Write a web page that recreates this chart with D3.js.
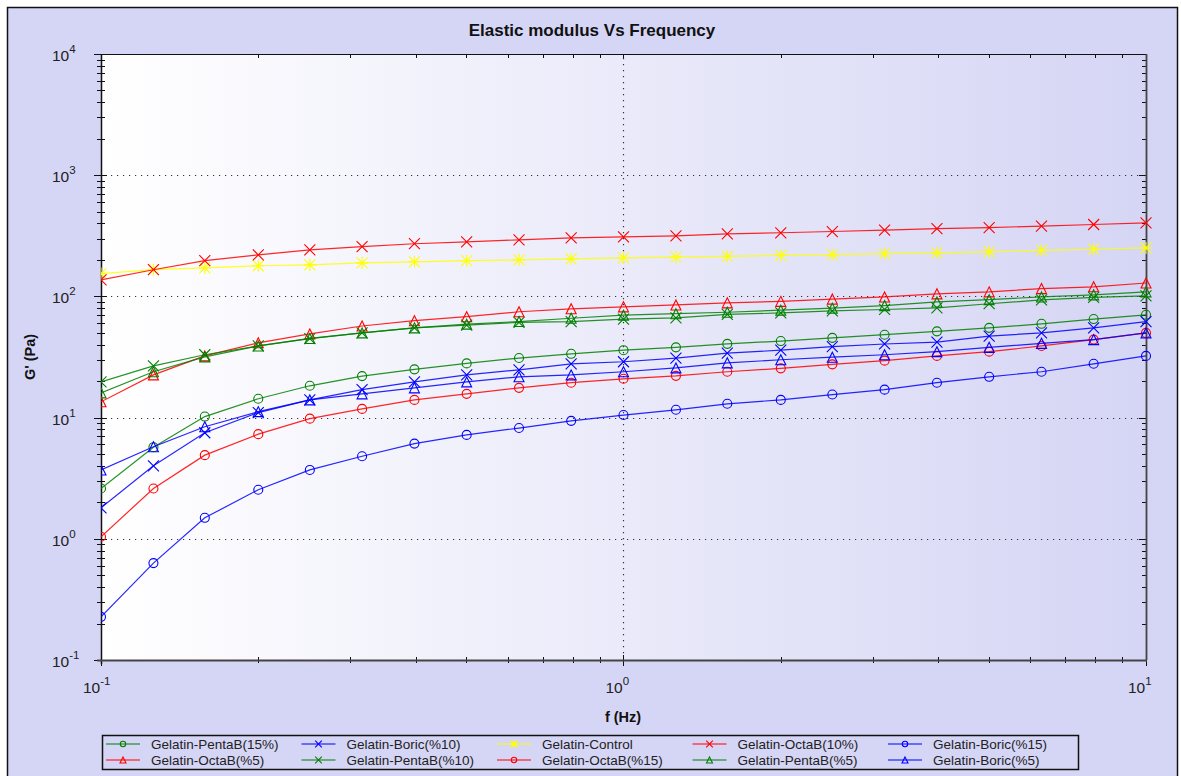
<!DOCTYPE html>
<html>
<head>
<meta charset="utf-8">
<script src="https://cdn.jsdelivr.net/npm/d3@7"></script>
<style>
  html, body { margin: 0; padding: 0; background: #fff; }
  svg { display: block; font-family: "Liberation Sans", Arial, sans-serif; }
</style>
</head>
<body>
<div id="chart"></div>
<script>
// frequencies (Hz)
const freq = [0.1, 0.126, 0.158, 0.2, 0.251, 0.316, 0.398, 0.501, 0.631, 0.794, 1, 1.26, 1.58, 2, 2.51, 3.16, 3.98, 5.01, 6.31, 7.94, 10];

// G' (Pa) per sample
const pentaB15 = [2.6, 5.7, 10.2, 14.3, 18.3, 22, 25, 28, 31, 33.6, 36, 38, 40.6, 42.8, 45.5, 48.3, 51.5, 55, 59.4, 65, 70.5];
const boric10  = [1.8, 4.0, 7.5, 11, 14, 17, 19.7, 22.5, 24.8, 27.8, 28.9, 31, 34, 36, 38.5, 40.5, 42, 47, 50, 55, 62];
const control  = [154, 166, 172, 179, 182, 189, 193, 197, 200, 204, 208, 211, 214, 218, 221, 225, 229, 233, 240, 245, 251];
const octaB10  = [137, 166, 197, 220, 242, 257, 272, 282, 293, 304, 310, 316, 328, 335, 343, 352, 362, 370, 380, 392, 405];
const boric15  = [0.227, 0.63, 1.49, 2.54, 3.7, 4.8, 6.1, 7.2, 8.2, 9.4, 10.5, 11.6, 13, 14, 15.5, 17, 19.4, 21.7, 23.9, 27.8, 32.3];
const octaB5   = [13.5, 22.5, 32.3, 41.4, 49, 57, 63, 68, 74.7, 79, 82, 85, 88.5, 91, 95, 99, 105, 109, 116, 120, 129];
const pentaB10 = [19.7, 26.7, 33, 39, 44.8, 50, 55, 58, 61, 62, 65, 66.6, 71, 73, 76, 78, 80.5, 87, 93.5, 98, 101];
const octaB15  = [1.04, 2.6, 4.9, 7.3, 9.8, 11.8, 14, 15.7, 17.6, 19.4, 20.9, 22.1, 23.9, 25.5, 27.5, 29.5, 32.3, 35, 39, 44, 50];
const pentaB5  = [16, 23.9, 31.7, 39, 45, 50, 55, 59, 62, 66, 70, 72, 74, 77, 80, 84, 90, 94, 99, 103, 109];
const boric5   = [3.7, 5.75, 8.4, 11.2, 14, 15.7, 17.6, 19.7, 21.7, 22.5, 23.9, 25.7, 28.3, 30, 31.5, 33, 35, 38, 41, 44, 50];

const names   = ["Gelatin-PentaB(15%)", "Gelatin-Boric(%10)", "Gelatin-Control", "Gelatin-OctaB(10%)", "Gelatin-Boric(%15)",
                 "Gelatin-OctaB(%5)", "Gelatin-PentaB(%10)", "Gelatin-OctaB(%15)", "Gelatin-PentaB(%5)", "Gelatin-Boric(%5)"];
const values  = [pentaB15, boric10, control, octaB10, boric15, octaB5, pentaB10, octaB15, pentaB5, boric5];
const colors  = ["#008000", "#0000ff", "#ffff00", "#ff0000", "#0000ff", "#ff0000", "#008000", "#ff0000", "#008000", "#0000ff"];
const symbols = ["circle", "x", "star", "x", "circle", "triangle", "x", "circle", "triangle", "triangle"];

const xDecades = [0.1, 1, 10];
const yDecades = [0.1, 1, 10, 100, 1000, 10000];

const W = 1181, H = 776;
const plot = { left: 101, right: 1146, top: 54, bottom: 660 };

const x = d3.scaleLog().domain([0.1, 10]).range([plot.left, plot.right]);
const y = d3.scaleLog().domain([0.1, 10000]).range([plot.bottom, plot.top]);

const svg = d3.select("#chart").append("svg").attr("width", W).attr("height", H);

const defs = svg.append("defs");
const grad = defs.append("linearGradient").attr("id", "plotbg").attr("x1", 0).attr("x2", 1).attr("y1", 0).attr("y2", 0);
grad.append("stop").attr("offset", 0).attr("stop-color", "#ffffff");
grad.append("stop").attr("offset", 1).attr("stop-color", "#d5d5f5");
defs.append("clipPath").attr("id", "clip").append("rect")
  .attr("x", plot.left).attr("y", plot.top - 6)
  .attr("width", plot.right - plot.left + 6).attr("height", plot.bottom - plot.top + 12);

// outer frame
svg.append("rect").attr("x", 7.5).attr("y", 7.5).attr("width", 1170).attr("height", 780)
  .attr("fill", "#d5d5f5").attr("stroke", "#111").attr("stroke-width", 1.5);

// plot background
svg.append("rect").attr("x", plot.left).attr("y", plot.top)
  .attr("width", plot.right - plot.left).attr("height", plot.bottom - plot.top)
  .attr("fill", "url(#plotbg)");

// title
svg.append("text").attr("x", 592).attr("y", 36).attr("text-anchor", "middle")
  .attr("font-size", 17).attr("font-weight", "bold").attr("fill", "#111")
  .text("Elastic modulus Vs Frequency");

// grid
const grid = svg.append("g").attr("stroke", "#333").attr("stroke-width", 1.2).attr("stroke-dasharray", "1.2,4.8");
grid.selectAll("line.gy").data(yDecades.slice(1, -1)).join("line")
  .attr("x1", plot.left + 4).attr("x2", plot.right - 4)
  .attr("y1", d => Math.round(y(d)) + 0.5).attr("y2", d => Math.round(y(d)) + 0.5);
grid.selectAll("line.gx").data(xDecades.slice(1, -1)).join("line")
  .attr("y1", plot.top + 4).attr("y2", plot.bottom - 4)
  .attr("x1", d => Math.round(x(d)) + 0.5).attr("x2", d => Math.round(x(d)) + 0.5);

// ticks
const minorOf = decs => {
  const out = [];
  decs.slice(0, -1).forEach(d => { for (let k = 2; k <= 9; k++) out.push(d * k); });
  return out;
};
const yMinor = minorOf(yDecades);
const xMinor = minorOf(xDecades);

const ticks = svg.append("g").attr("stroke", "#111").attr("stroke-width", 1);
// left axis
ticks.selectAll(null).data(yMinor).join("line")
  .attr("x1", plot.left - 4).attr("x2", plot.left + 4)
  .attr("y1", d => Math.round(y(d)) + 0.5).attr("y2", d => Math.round(y(d)) + 0.5);
ticks.selectAll(null).data(yDecades).join("line")
  .attr("x1", plot.left - 7).attr("x2", plot.left + 6)
  .attr("y1", d => Math.round(y(d)) + 0.5).attr("y2", d => Math.round(y(d)) + 0.5);
// right axis
ticks.selectAll(null).data(yMinor).join("line")
  .attr("x1", plot.right - 4).attr("x2", plot.right)
  .attr("y1", d => Math.round(y(d)) + 0.5).attr("y2", d => Math.round(y(d)) + 0.5);
ticks.selectAll(null).data(yDecades).join("line")
  .attr("x1", plot.right - 7).attr("x2", plot.right)
  .attr("y1", d => Math.round(y(d)) + 0.5).attr("y2", d => Math.round(y(d)) + 0.5);
// bottom axis
ticks.selectAll(null).data(xMinor).join("line")
  .attr("y1", plot.bottom - 3).attr("y2", plot.bottom + 3)
  .attr("x1", d => Math.round(x(d)) + 0.5).attr("x2", d => Math.round(x(d)) + 0.5);
ticks.selectAll(null).data(xDecades).join("line")
  .attr("y1", plot.bottom - 5).attr("y2", plot.bottom + 6)
  .attr("x1", d => Math.round(x(d)) + 0.5).attr("x2", d => Math.round(x(d)) + 0.5);
// top axis
ticks.selectAll(null).data(xMinor.concat(xDecades)).join("line")
  .attr("y1", plot.top).attr("y2", plot.top + 4)
  .attr("x1", d => Math.round(x(d)) + 0.5).attr("x2", d => Math.round(x(d)) + 0.5);

// frame lines
svg.append("line").attr("x1", plot.left - 4).attr("x2", plot.right).attr("y1", plot.top + 0.5).attr("y2", plot.top + 0.5).attr("stroke", "#111");
svg.append("line").attr("x1", plot.left + 0.5).attr("x2", plot.left + 0.5).attr("y1", plot.top).attr("y2", plot.bottom + 4).attr("stroke", "#111").attr("stroke-width", 1.5);
svg.append("line").attr("x1", plot.left - 4).attr("x2", plot.right + 1).attr("y1", plot.bottom + 0.5).attr("y2", plot.bottom + 0.5).attr("stroke", "#444").attr("stroke-width", 1.8);
svg.append("line").attr("x1", plot.right + 0.5).attr("x2", plot.right + 0.5).attr("y1", plot.top).attr("y2", plot.bottom).attr("stroke", "#444").attr("stroke-width", 1.8);

// tick labels
const expLabel = (g, d) => {
  const e = Math.round(Math.log10(d));
  g.append("tspan").text("10");
  g.append("tspan").attr("font-size", 11.5).attr("dy", -8).text(e);
};
svg.append("g").selectAll("text").data(yDecades).join("text")
  .attr("x", 52).attr("y", d => y(d) + 7)
  .attr("font-size", 15.5).attr("fill", "#222")
  .each(function (d) { expLabel(d3.select(this), d); });
svg.append("g").selectAll("text").data(xDecades).join("text")
  .attr("x", d => x(d) - 18).attr("y", d => plot.bottom + 33)
  .attr("font-size", 15.5).attr("fill", "#222")
  .each(function (d) { expLabel(d3.select(this), d); });

// axis titles
svg.append("text").attr("x", 623).attr("y", 722).attr("text-anchor", "middle")
  .attr("font-size", 14.5).attr("font-weight", "bold").attr("fill", "#111").text("f (Hz)");
svg.append("text").attr("transform", "translate(35,357) rotate(-90)").attr("text-anchor", "middle")
  .attr("font-size", 14.5).attr("font-weight", "bold").attr("fill", "#111").text("G' (Pa)");

// marker drawing
function drawMarker(g, sym, cx, cy, s, color) {
  if (sym === "circle") {
    g.append("circle").attr("cx", cx).attr("cy", cy).attr("r", s * 0.45)
      .attr("fill", "none").attr("stroke", color).attr("stroke-width", 1.1);
  } else if (sym === "triangle") {
    const h = s * 0.5;
    g.append("path").attr("d", `M${cx},${cy - h}L${cx + h},${cy + h}L${cx - h},${cy + h}Z`)
      .attr("fill", "none").attr("stroke", color).attr("stroke-width", 1.1);
  } else {
    const h = s * 0.55;
    let d = `M${cx - h},${cy - h}L${cx + h},${cy + h}M${cx - h},${cy + h}L${cx + h},${cy - h}`;
    if (sym === "star") d += `M${cx},${cy - h * 1.1}L${cx},${cy + h * 1.1}M${cx - h * 1.1},${cy}L${cx + h * 1.1},${cy}`;
    g.append("path").attr("d", d).attr("fill", "none").attr("stroke", color).attr("stroke-width", 1.1);
  }
}

// series
const line = d3.line().x(d => x(d[0])).y(d => y(d[1]));
const seriesG = svg.append("g").attr("clip-path", "url(#clip)");
values.forEach((vals, i) => {
  const pts = freq.map((f, j) => [f, vals[j]]);
  const g = seriesG.append("g");
  g.append("path").attr("d", line(pts)).attr("fill", "none")
    .attr("stroke", colors[i]).attr("stroke-width", 1.2).attr("stroke-opacity", 0.85);
  pts.forEach(p => drawMarker(g, symbols[i], x(p[0]), y(p[1]), 10, colors[i]));
});

// legend
const leg = svg.append("g");
leg.append("rect").attr("x", 102.5).attr("y", 735.5).attr("width", 976).attr("height", 34)
  .attr("fill", "none").attr("stroke", "#111").attr("stroke-width", 1.5);
names.forEach((n, i) => {
  const col = i % 5, row = Math.floor(i / 5);
  const lx = 106 + col * 195.5, ly = 744 + row * 16;
  leg.append("line").attr("x1", lx).attr("x2", lx + 34).attr("y1", ly).attr("y2", ly)
    .attr("stroke", colors[i]).attr("stroke-width", 1.2);
  drawMarker(leg, symbols[i], lx + 17, ly, 6, colors[i]);
  leg.append("text").attr("x", lx + 45).attr("y", ly + 5).attr("font-size", 13.5).attr("fill", "#222").text(n);
});
</script>
</body>
</html>
